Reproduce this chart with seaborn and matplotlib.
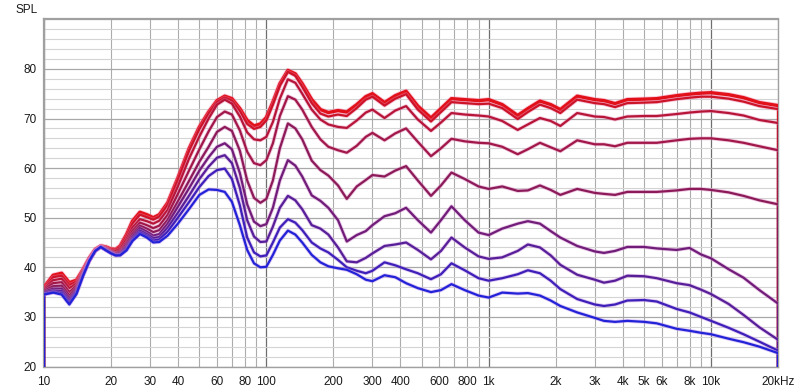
import numpy as np
import pandas as pd
import seaborn as sns
import matplotlib.pyplot as plt
import matplotlib.patheffects as pe
from matplotlib.colors import to_rgb

# frequency points (Hz)
freq_hz = [10, 11, 12, 13, 14, 15, 16, 17, 18, 19,
           20, 21, 22, 23.5, 25, 27, 29, 31, 33, 36,
           40, 45, 50, 55, 60, 65, 70, 76, 82, 88,
           94, 100, 107, 115, 125, 135, 145, 160, 175, 190,
           210, 230, 255, 280, 300, 340, 380, 425, 480, 550,
           610, 680, 780, 900, 1000, 1150, 1350, 1500, 1700, 1900,
           2100, 2500, 3000, 3300, 3700, 4200, 5000, 5700, 7000, 8000,
           9000, 10000, 12000, 14000, 16500, 20000]

# SPL (dB), top (red) curve to bottom (blue) curve
spl_1 = [36.0, 38.4, 38.8, 36.9, 37.4, 39.6, 41.9, 43.6, 44.3, 44.1,
         43.7, 43.6, 44.3, 46.6, 49.3, 51.1, 50.6, 50.0, 50.6, 53.0,
         58.0, 64.0, 68.3, 71.3, 73.6, 74.5, 74.0, 72.0, 69.6, 68.5,
         68.9, 70.2, 73.3, 77.0, 79.7, 79.0, 77.0, 73.8, 71.8, 71.2,
         71.6, 71.3, 72.8, 74.4, 75.0, 73.2, 74.6, 75.5, 72.5, 70.1,
         72.0, 74.0, 73.8, 73.6, 73.8, 72.8, 70.6, 72.0, 73.5, 72.8,
         71.8, 74.5, 73.8, 73.6, 73.0, 73.8, 73.9, 74.0, 74.6, 74.9,
         75.1, 75.2, 74.8, 74.2, 73.2, 72.6]
spl_2 = [35.8, 38.0, 38.3, 36.4, 37.1, 39.5, 41.8, 43.5, 44.3, 44.0,
         43.6, 43.5, 44.1, 46.2, 48.8, 50.6, 50.1, 49.6, 50.2, 52.6,
         57.6, 63.6, 67.9, 71.0, 73.3, 74.2, 73.6, 71.5, 68.9, 67.9,
         68.3, 69.6, 72.8, 76.6, 79.4, 78.6, 76.4, 73.1, 71.0, 70.4,
         70.8, 70.5, 72.1, 73.8, 74.4, 72.6, 74.0, 74.9, 71.8, 69.4,
         71.3, 73.3, 73.1, 72.9, 73.0, 72.1, 69.9, 71.3, 72.8, 72.1,
         71.1, 73.8, 73.1, 72.9, 72.3, 73.1, 73.2, 73.3, 73.9, 74.2,
         74.4, 74.4, 74.0, 73.4, 72.5, 71.9]
spl_3 = [35.6, 37.4, 37.7, 35.8, 36.7, 39.3, 41.7, 43.5, 44.2, 43.9,
         43.4, 43.2, 43.7, 45.6, 48.0, 49.7, 49.3, 48.8, 49.4, 51.6,
         56.3, 62.0, 66.4, 70.0, 72.8, 73.8, 73.0, 70.4, 67.2, 65.8,
         65.6, 66.3, 69.3, 74.0, 77.9, 77.2, 75.0, 71.8, 69.8, 68.8,
         68.3, 68.1, 69.6, 71.2, 71.8, 70.1, 71.6, 72.5, 69.8, 67.5,
         69.2, 71.1, 70.8, 70.6, 70.4, 69.5, 67.7, 68.8, 70.1, 69.5,
         68.5, 71.1, 70.4, 70.3, 69.8, 70.4, 70.5, 70.5, 70.9, 71.2,
         71.4, 71.5, 71.1, 70.6, 69.7, 69.1]
spl_4 = [35.4, 36.8, 37.0, 35.0, 36.3, 39.1, 41.6, 43.4, 44.2, 43.8,
         43.2, 42.9, 43.3, 45.0, 47.3, 49.0, 48.5, 47.9, 48.4, 50.6,
         54.8, 59.6, 63.8, 67.4, 70.3, 71.4, 70.8, 67.6, 63.3, 61.0,
         60.6, 61.6, 65.0, 70.5, 74.5, 73.8, 71.8, 68.3, 65.8, 64.3,
         63.6, 63.1, 64.5, 66.3, 67.1, 65.6, 67.0, 68.0, 65.3, 62.4,
         64.0, 65.9, 65.4, 65.1, 65.0, 64.3, 62.8, 63.8, 65.1, 64.2,
         63.4, 65.6, 64.8, 64.8, 64.4, 65.1, 65.1, 65.1, 65.6, 65.9,
         66.0, 66.0, 65.6, 65.1, 64.4, 63.6]
spl_5 = [35.2, 36.2, 36.3, 34.3, 35.9, 38.9, 41.5, 43.4, 44.2, 43.7,
         43.1, 42.8, 43.0, 44.6, 46.7, 48.4, 47.8, 47.1, 47.5, 49.6,
         53.3, 57.5, 61.3, 64.3, 67.3, 68.3, 67.5, 63.5, 57.5, 54.0,
         53.0, 53.8, 57.5, 64.0, 69.0, 68.0, 65.8, 61.5, 59.6, 58.5,
         56.5, 53.8, 56.3, 57.6, 58.6, 58.3, 59.5, 60.4, 57.5, 54.4,
         56.5, 59.1, 57.8, 56.3, 55.8, 56.3, 55.4, 55.5, 56.5, 55.6,
         54.6, 55.8, 55.0, 54.8, 54.6, 55.2, 55.2, 55.2, 55.5, 55.8,
         55.8, 55.6, 55.1, 54.4, 53.5, 52.7]
spl_6 = [35.0, 35.7, 35.7, 33.7, 35.5, 38.7, 41.4, 43.3, 44.1, 43.6,
         43.0, 42.6, 42.8, 44.2, 46.2, 47.9, 47.2, 46.4, 46.7, 48.8,
         52.2, 56.0, 59.5, 62.2, 64.3, 65.0, 63.8, 59.0, 52.7, 49.2,
         48.3, 48.7, 52.0, 57.5, 61.6, 60.5, 58.3, 54.5, 53.4, 52.0,
         49.5, 45.2, 46.5, 47.3, 48.5, 50.3, 50.9, 52.0, 49.5, 47.0,
         49.5, 52.3, 49.5, 47.0, 46.5, 47.8, 48.8, 49.3, 48.8, 47.3,
         46.0, 44.3, 43.2, 42.9, 43.3, 44.1, 44.1, 43.8, 43.5, 43.9,
         42.6, 41.8, 39.6, 37.9, 35.4, 32.7]
spl_7 = [34.8, 35.3, 35.2, 33.2, 35.2, 38.6, 41.4, 43.3, 44.1, 43.5,
         42.9, 42.5, 42.6, 43.9, 45.8, 47.4, 46.7, 45.9, 46.1, 48.0,
         51.0, 54.5, 57.8, 60.3, 62.1, 62.6, 61.0, 56.0, 49.5, 46.2,
         45.1, 45.2, 48.2, 52.0, 54.4, 53.5, 51.7, 48.5, 47.8, 46.6,
         44.0, 41.2, 41.0, 41.9, 42.8, 44.3, 44.6, 45.0, 43.5, 41.6,
         43.3, 46.0, 44.0, 42.2, 41.7, 42.0, 43.3, 44.6, 44.0, 42.4,
         40.5, 38.5, 37.5, 36.9, 37.3, 38.3, 38.2, 37.8, 36.8, 36.4,
         35.5, 34.6, 32.6, 30.4, 27.9, 25.4]
spl_8 = [34.6, 35.0, 34.8, 32.8, 34.9, 38.4, 41.3, 43.3, 44.1, 43.5,
         42.9, 42.4, 42.5, 43.6, 45.5, 47.0, 46.3, 45.4, 45.6, 47.2,
         50.0, 53.2, 56.2, 58.4, 59.6, 59.9, 57.8, 52.5, 46.0, 43.0,
         42.2, 42.4, 45.0, 48.0, 49.7, 49.0, 47.5, 45.0, 43.8, 43.0,
         41.5, 40.0, 39.3, 38.8, 39.3, 41.0, 40.4, 39.6, 38.8, 37.6,
         38.6, 40.8, 39.4, 37.8, 37.3, 37.8, 38.6, 39.4, 38.8, 37.3,
         35.6, 33.6, 32.5, 32.2, 32.5, 33.3, 33.4, 33.1, 31.6, 30.9,
         30.0, 29.2, 27.8, 26.5, 25.0, 23.2]
spl_9 = [34.5, 34.9, 34.5, 32.5, 34.6, 38.3, 41.3, 43.3, 44.1, 43.4,
         42.8, 42.4, 42.4, 43.4, 45.3, 46.7, 46.0, 45.0, 45.1, 46.4,
         48.8, 51.8, 54.6, 55.7, 55.6, 55.2, 53.2, 48.5, 43.5, 40.8,
         40.0, 40.1, 42.5, 45.4, 47.4, 46.6, 45.0, 42.5, 41.0, 40.2,
         39.8, 39.5, 38.6, 37.5, 37.2, 38.4, 38.0, 36.8, 35.8, 35.0,
         35.4, 36.6, 35.4, 34.3, 33.9, 34.9, 34.7, 34.8, 34.3, 33.3,
         32.2, 30.9, 29.8, 29.2, 29.0, 29.2, 29.0, 28.7, 27.6, 27.2,
         26.8, 26.5, 25.6, 24.9, 24.0, 22.7]

curves = [spl_1, spl_2, spl_3, spl_4, spl_5, spl_6, spl_7, spl_8, spl_9]
curve_names = ["c%d" % (i + 1) for i in range(len(curves))]

y_ticks = [20, 30, 40, 50, 60, 70, 80]
x_major = [10, 100, 1000, 10000]
x_major_labels = ["10", "100", "1k", "10k"]
x_minor = [20, 30, 40, 50, 60, 70, 80, 90,
           200, 300, 400, 500, 600, 700, 800, 900,
           2000, 3000, 4000, 5000, 6000, 7000, 8000, 9000, 20000]
x_minor_labels = ["20", "30", "40", "", "60", "", "80", "",
                  "200", "300", "400", "", "600", "", "800", "",
                  "2k", "3k", "4k", "5k", "6k", "", "8k", "", "20kHz"]

df = pd.concat([pd.DataFrame({"freq": freq_hz, "spl": v, "curve": n})
                for v, n in zip(curves, curve_names)])

sns.set_style("white")
plt.rcParams['font.family'] = ['Liberation Sans', 'DejaVu Sans']

# red -> dark plum -> blue, like the analyser's overlay colours
palette = sns.blend_palette(["#e21018", "#8c1a58", "#2222d8"], len(curves))

fig = plt.figure(figsize=(8, 3.92), dpi=100)
ax = fig.add_axes([44 / 800, 25.5 / 392, 734 / 800, 347.2 / 392])

y_lo, y_hi = 20, 90

# vertical drops at both ends, like the analyser draws them
for i, v in enumerate(curves):
    ax.vlines([freq_hz[0], freq_hz[-1]], y_lo, [v[0], v[-1]],
              color=palette[i], lw=1.6, zorder=3)

sns.lineplot(data=df, x="freq", y="spl", hue="curve", palette=palette,
             estimator=None, sort=False, lw=1.6, legend=False, ax=ax, zorder=4)

for i, line in enumerate(ax.lines):
    col = np.array(to_rgb(palette[i]))
    halo = 0.35 * col + 0.65 * np.array([1.0, 0.72, 0.95])
    lw = 2.4 if i == 0 else 1.6
    line.set_linewidth(lw)
    line.set_path_effects([pe.Stroke(linewidth=lw + 1.2, foreground=halo, alpha=0.45),
                           pe.Normal()])

ax.set_xscale("log")
ax.set_xlim(10, 20000)
ax.set_ylim(y_lo, y_hi)

ax.set_xticks(x_major)
ax.set_xticklabels(x_major_labels)
ax.set_xticks(x_minor, minor=True)
ax.set_xticklabels(x_minor_labels, minor=True)
ax.set_yticks(y_ticks)
ax.set_yticks(np.arange(20, 91, 2), minor=True)
ax.yaxis.set_minor_formatter(plt.NullFormatter())

ax.grid(which="major", axis="x", color="#6e6e6e", lw=0.9)
ax.grid(which="minor", axis="x", color="#acacac", lw=0.8)
ax.grid(which="major", axis="y", color="#a8a8a8", lw=0.9)
ax.grid(which="minor", axis="y", color="#d4d4d4", lw=0.8)
ax.set_axisbelow(True)

ax.tick_params(which="both", length=0, labelsize=8.5, colors="#1a1a1a")
ax.tick_params(axis="x", which="both", pad=7)
ax.tick_params(axis="y", which="both", pad=5)
ax.set_xlabel("")
ax.set_ylabel("")

for side, s in ax.spines.items():
    s.set_color("#a0a0a0")
    s.set_linewidth(1.6 if side in ("left", "top") else 1.0)

fig.text(16 / 800, 1 - 10 / 392, "SPL", fontsize=8.5, color="#1a1a1a", va="center")

fig.savefig("out.png", dpi=100, facecolor="white")
